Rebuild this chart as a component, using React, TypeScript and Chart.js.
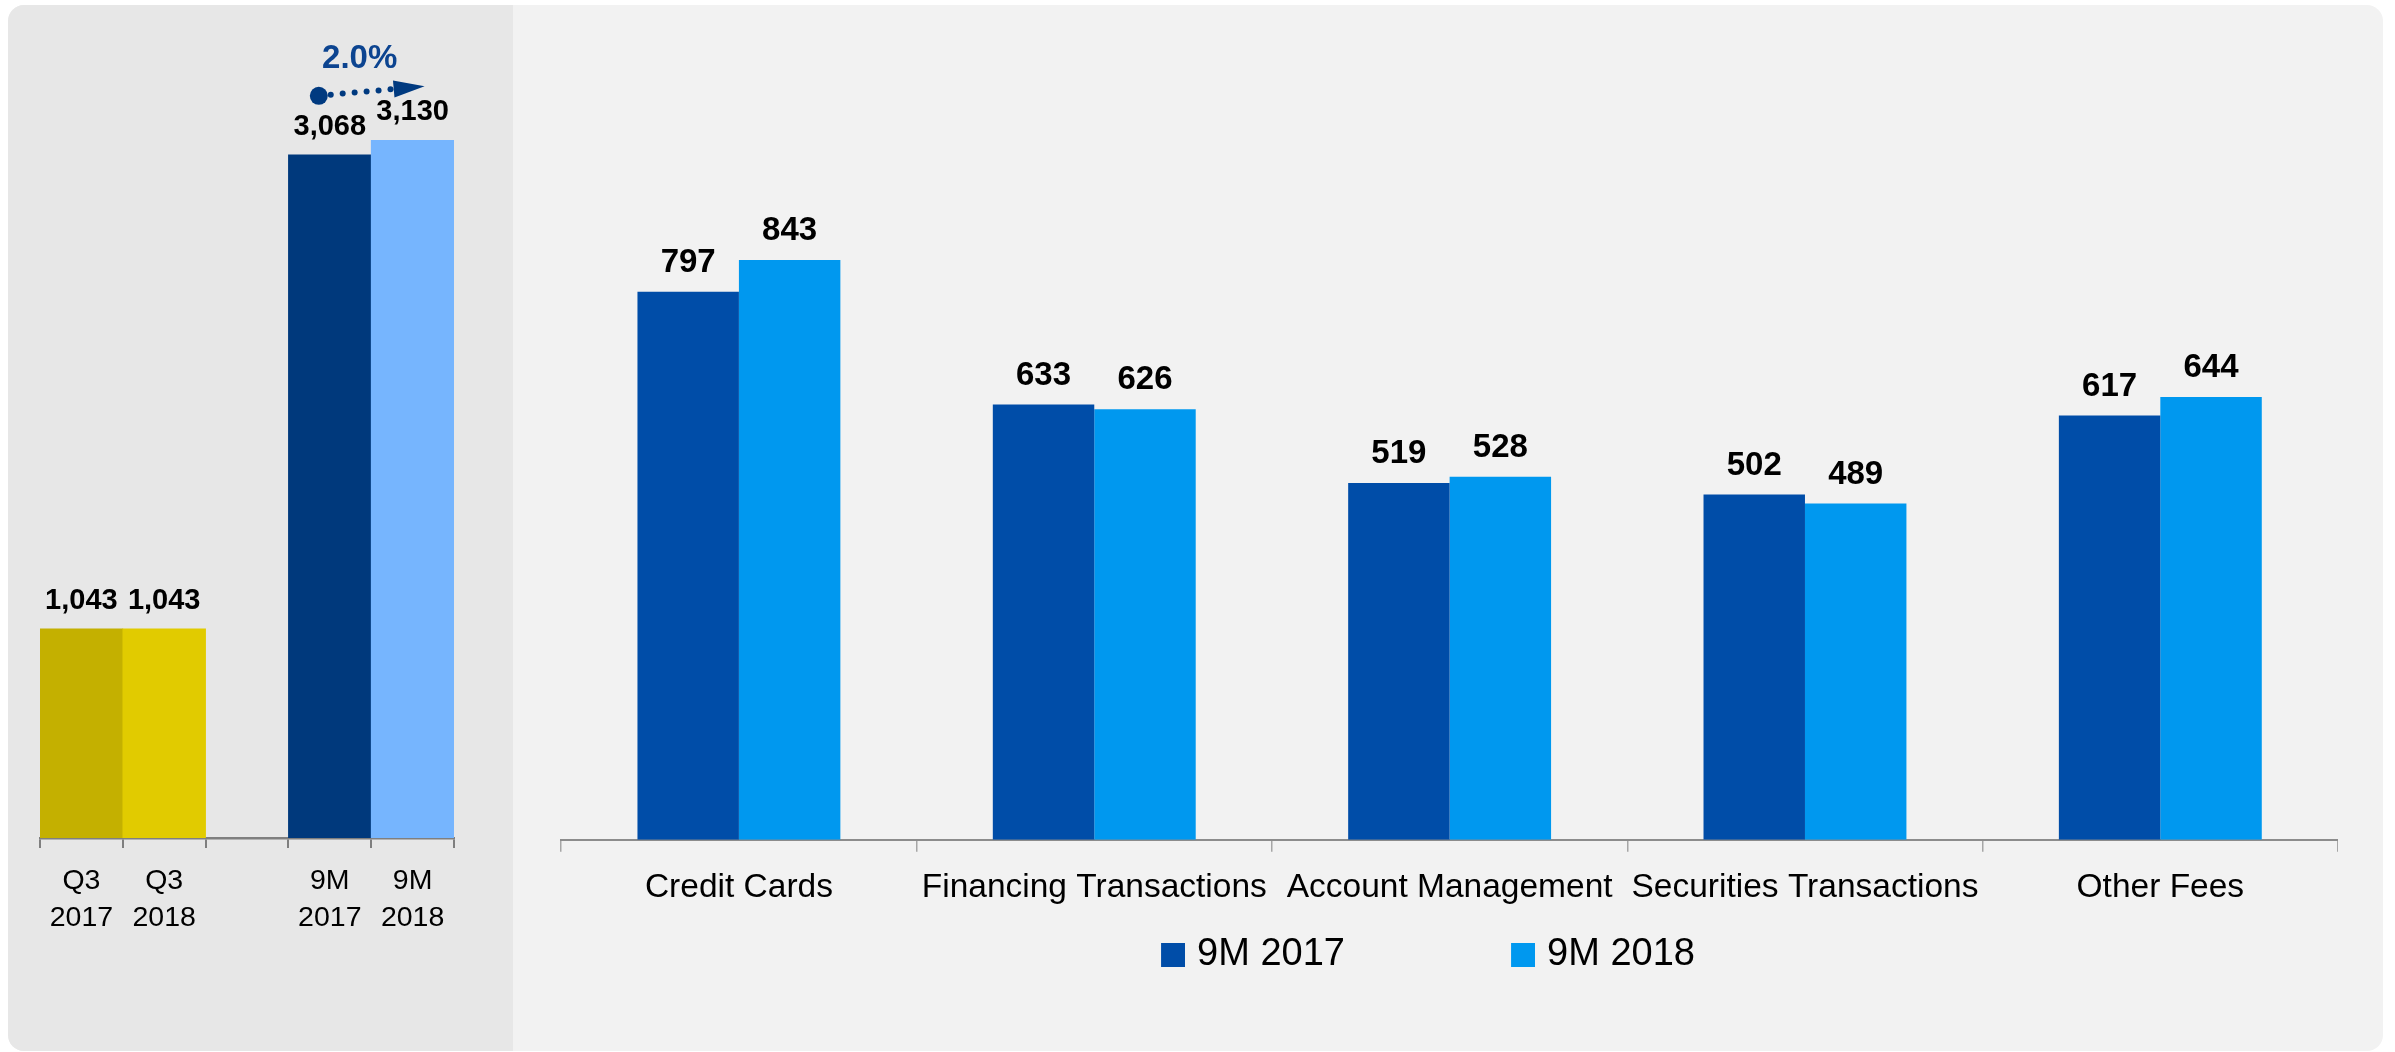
import React, { useEffect, useRef, useMemo } from 'react';
import { Chart, registerables } from 'chart.js';

Chart.register(...registerables);

const FONT = '"Liberation Sans", Arial, sans-serif';

// ---- Data ----
const summaryLabels = [["Q3", "2017"], ["Q3", "2018"], "", ["9M", "2017"], ["9M", "2018"]];
const summaryValues = [1043, 1043, null, 3068, 3130];
const summaryColors = ["#c4b000", "#e1cb00", "rgba(0,0,0,0)", "#00397c", "#76b5fe"];

const categories = ["Credit Cards", "Financing Transactions", "Account Management", "Securities Transactions", "Other Fees"];
const series2017 = [797, 633, 519, 502, 617];
const series2018 = [843, 626, 528, 489, 644];
const seriesNames = ["9M 2017", "9M 2018"];
const seriesColors = ["#004da8", "#0098ef"];

// ---- Plugins ----
const valueLabels = {
  id: 'valueLabels',
  afterDatasetsDraw(chart: any, _args: any, opts: any) {
    const ctx = chart.ctx;
    ctx.save();
    ctx.font = `bold ${opts.size}px ${FONT}`;
    ctx.fillStyle = '#000';
    ctx.textAlign = 'center';
    ctx.textBaseline = 'alphabetic';
    chart.data.datasets.forEach((ds: any, i: number) => {
      const meta = chart.getDatasetMeta(i);
      meta.data.forEach((el: any, j: number) => {
        const v = ds.data[j];
        if (v == null) return;
        ctx.fillText(Number(v).toLocaleString('en-US'), el.x, el.y - opts.offset);
      });
    });
    ctx.restore();
  },
};

const growthArrow = {
  id: 'growthArrow',
  afterDatasetsDraw(chart: any) {
    const meta = chart.getDatasetMeta(0);
    const a = meta.data[3];
    const b = meta.data[4];
    if (!a || !b) return;
    const v0 = summaryValues[3] as number;
    const v1 = summaryValues[4] as number;
    const pct = ((v1 / v0 - 1) * 100).toFixed(1) + '%';
    const ctx = chart.ctx;
    const x0 = a.x - 11, y0 = a.y - 59;
    const x1 = b.x + 12, y1 = b.y - 54;
    const dx = x1 - x0, dy = y1 - y0;
    const len = Math.hypot(dx, dy);
    const ux = dx / len, uy = dy / len;
    const headLen = 31, headHalf = 8.5;
    ctx.save();
    ctx.fillStyle = '#003a80';
    ctx.beginPath();
    ctx.arc(x0, y0, 9, 0, Math.PI * 2);
    ctx.fill();
    for (let d = 12; d <= len - headLen + 1; d += 12) {
      ctx.beginPath();
      ctx.arc(x0 + ux * d, y0 + uy * d, 3, 0, Math.PI * 2);
      ctx.fill();
    }
    const bx = x1 - ux * headLen, by = y1 - uy * headLen;
    ctx.beginPath();
    ctx.moveTo(x1, y1);
    ctx.lineTo(bx - uy * headHalf, by + ux * headHalf);
    ctx.lineTo(bx + uy * headHalf, by - ux * headHalf);
    ctx.closePath();
    ctx.fill();
    ctx.fillStyle = '#0c4490';
    ctx.font = `bold 33px ${FONT}`;
    ctx.textAlign = 'center';
    ctx.textBaseline = 'middle';
    ctx.fillText(pct, (x0 + x1) / 2 - 12, (y0 + y1) / 2 - 32);
    ctx.restore();
  },
};

// ---- Layout constants ----
const LEG_FONT = 38;
const LEG_PAD = 12;
const AREA_LEFT = 561;
const AREA_RIGHT = 2338;
const TEXT1_START = 1197;
const TEXT_STEP = 350;

function measure(text: string, font: string) {
  const c = document.createElement('canvas');
  const ctx = c.getContext('2d')!;
  ctx.font = font;
  return ctx.measureText(text).width;
}

function makeMarker(color: string, w: number) {
  const c = document.createElement('canvas');
  c.width = Math.round(w + 14);
  c.height = 24;
  const ctx = c.getContext('2d')!;
  ctx.fillStyle = color;
  ctx.fillRect(c.width - 24, 0, 24, 24);
  return c;
}

function SummaryChart() {
  const ref = useRef<HTMLCanvasElement>(null);
  useEffect(() => {
    const chart = new Chart(ref.current!, {
      type: 'bar',
      data: {
        labels: summaryLabels as any,
        datasets: [{ data: summaryValues as any, backgroundColor: summaryColors, borderWidth: 0 }],
      },
      options: {
        responsive: false,
        animation: false,
        layout: { padding: { left: 20, right: 20, top: 10.5, bottom: 0 } },
        datasets: { bar: { barPercentage: 1, categoryPercentage: 1 } },
        scales: {
          x: {
            grid: { display: true, drawOnChartArea: false, drawTicks: true, tickLength: 10, color: '#7f7f7f', lineWidth: 2, offset: true },
            border: { display: true, color: '#7f7f7f', width: 2.5 },
            ticks: { color: '#000', font: { family: FONT, size: 28.5, lineHeight: 37 / 28.5 }, padding: 14.5, autoSkip: false, maxRotation: 0, minRotation: 0 },
          },
          y: { display: false, min: 150, max: 3650 },
        },
        plugins: { legend: { display: false }, tooltip: { enabled: false }, valueLabels: { size: 29, offset: 20 } } as any,
      },
      plugins: [valueLabels, growthArrow],
    });
    return () => chart.destroy();
  }, []);
  return <canvas ref={ref} width={454} height={943} style={{ position: 'absolute', left: 20, top: 8 }} />;
}

function BreakdownChart() {
  const ref = useRef<HTMLCanvasElement>(null);
  const geom = useMemo(() => {
    const tw = measure(seriesNames[0], `${LEG_FONT}px ${FONT}`);
    const half = LEG_FONT / 2;
    const W = TEXT_STEP - tw - LEG_PAD - half;
    const x0 = TEXT1_START - W - half;
    const lineW = 2 * (W + half + tw) + 2 * LEG_PAD;
    const sum = 2 * x0 - LEG_PAD + lineW;
    const legLeft = sum - AREA_RIGHT;
    const X = AREA_LEFT - legLeft;
    return { W, X, left: legLeft, width: AREA_RIGHT - legLeft };
  }, []);
  useEffect(() => {
    const markers = seriesColors.map((c) => makeMarker(c, geom.W));
    const chart = new Chart(ref.current!, {
      type: 'bar',
      data: {
        labels: categories,
        datasets: [
          { label: seriesNames[0], data: series2017, backgroundColor: seriesColors[0], borderWidth: 0 },
          { label: seriesNames[1], data: series2018, backgroundColor: seriesColors[1], borderWidth: 0 },
        ],
      },
      options: {
        responsive: false,
        animation: false,
        layout: { padding: { left: 0, right: 0, top: 9, bottom: 0 } },
        datasets: { bar: { barPercentage: 1, categoryPercentage: 0.571 } },
        scales: {
          x: {
            grid: { display: true, drawOnChartArea: false, drawTicks: true, tickLength: 12, color: '#a6a6a6', lineWidth: 1.5, offset: true },
            border: { display: true, color: '#8c8c8c', width: 2 },
            ticks: { color: '#000', font: { family: FONT, size: 33.5, lineHeight: 1.2 }, padding: 16, autoSkip: false, maxRotation: 0, minRotation: 0 },
          },
          y: {
            display: true,
            min: 0,
            max: 1150,
            grid: { display: false },
            border: { display: false },
            ticks: { display: false },
            afterFit: (s: any) => { s.width = geom.X; },
          },
        },
        plugins: {
          legend: {
            position: 'bottom',
            align: 'center',
            labels: {
              color: '#000',
              font: { family: FONT, size: LEG_FONT },
              padding: LEG_PAD,
              usePointStyle: true,
              pointStyleWidth: geom.W,
              generateLabels: (ch: any) => {
                const items = (Chart.defaults.plugins.legend.labels as any).generateLabels(ch);
                return items.map((it: any, i: number) => ({ ...it, pointStyle: markers[i], lineWidth: 0, strokeStyle: 'rgba(0,0,0,0)' }));
              },
            },
          },
          tooltip: { enabled: false },
          valueLabels: { size: 33, offset: 20 },
        } as any,
      },
      plugins: [valueLabels],
    });
    return () => chart.destroy();
  }, [geom]);
  return (
    <canvas
      ref={ref}
      width={Math.round(geom.width)}
      height={944}
      style={{ position: 'absolute', left: Math.round(geom.left), top: 40 }}
    />
  );
}

export default function App() {
  return (
    <div style={{ position: 'fixed', left: 0, top: 0, width: 2395, height: 1052, background: '#ffffff', overflow: 'hidden' }}>
      <div style={{ position: 'absolute', left: 8, top: 5, width: 2375, height: 1046, borderRadius: 16, overflow: 'hidden', background: '#f2f2f2' }}>
        <div style={{ position: 'absolute', left: 0, top: 0, width: 505, height: '100%', background: '#e7e7e7' }} />
      </div>
      <SummaryChart />
      <BreakdownChart />
    </div>
  );
}
